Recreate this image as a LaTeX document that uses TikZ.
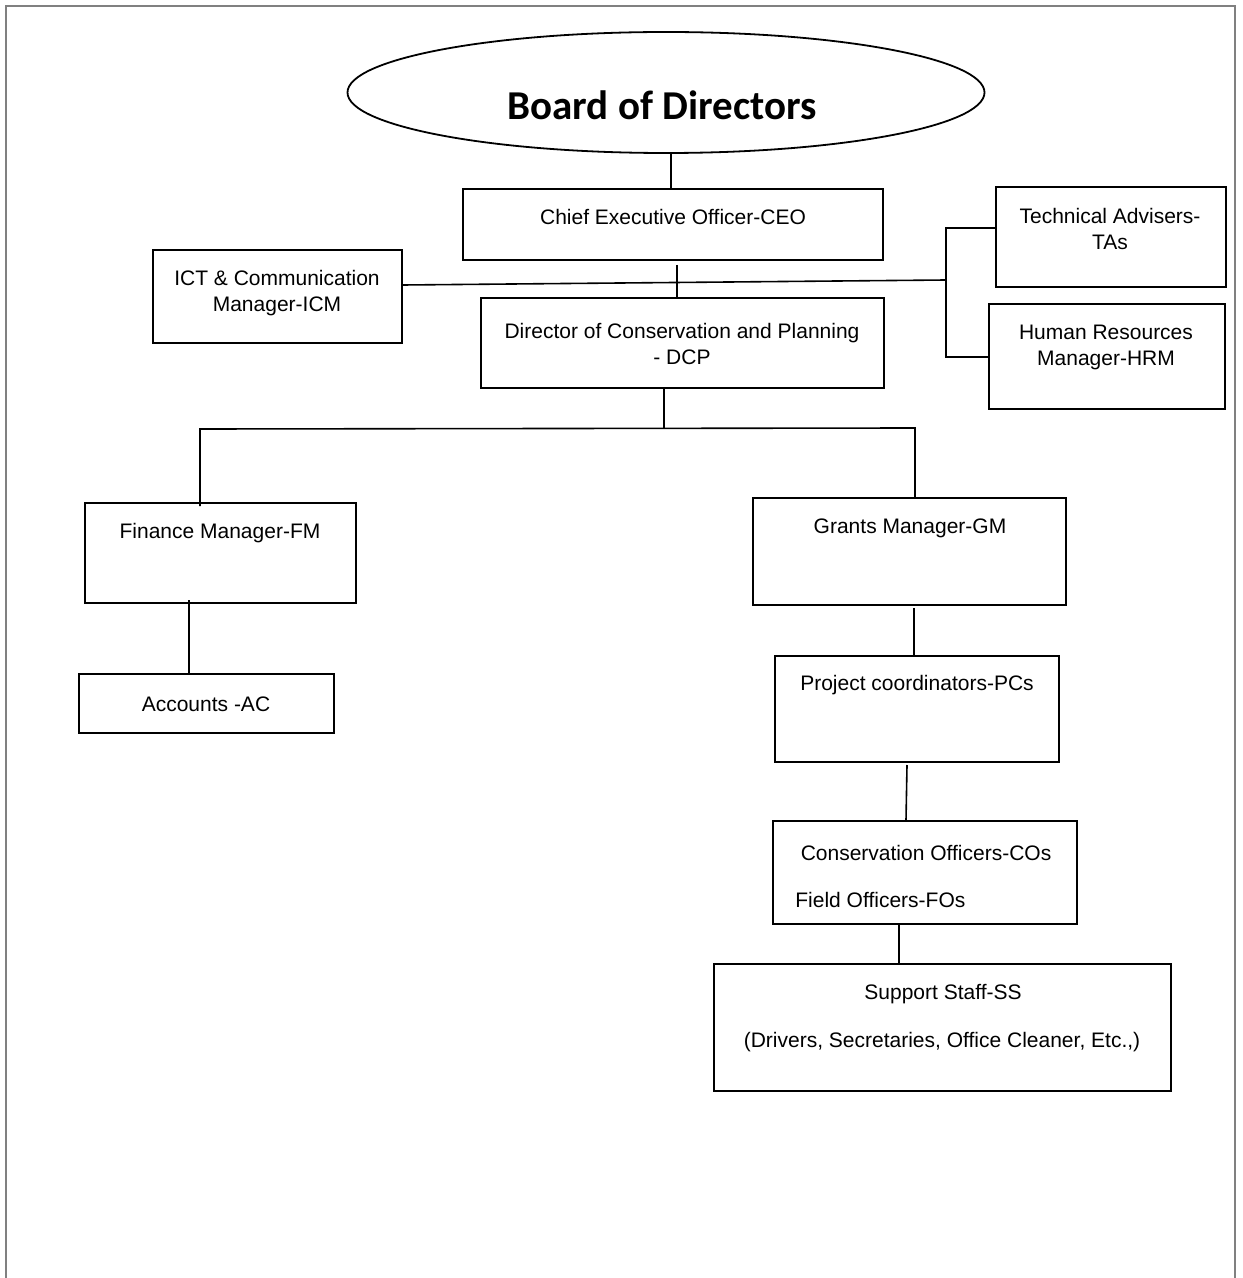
\documentclass[tikz,border=0pt]{standalone}
\usepackage{fontspec}
\setmainfont{Liberation Sans}
\newfontfamily\titlefont{Carlito}
\usetikzlibrary{shapes.geometric,fit}
\begin{document}
\begin{tikzpicture}[x=0.5pt,y=-0.5pt,
  box/.style={draw, line width=0.9pt, inner sep=0pt, rectangle},
  txt/.style={font=\fontsize{10.5}{13}\selectfont, align=center, inner sep=0pt},
  conn/.style={line width=0.8pt},
  frame/.style={draw=black!50, line width=1pt}]
\useasboundingbox (0,0) rectangle (1242,1278);
% page frame
\draw[frame] (6,1278) -- (6,6) -- (1235,6) -- (1235,1278);

% Board of Directors
\node[draw, ellipse, line width=0.9pt, inner sep=0pt, minimum width=318.5pt, minimum height=60.5pt] (bod) at (666,92.5) {};
\node[font=\titlefont\bfseries\fontsize{20.5}{24}\selectfont, inner sep=0pt] (bodT) at (662,105) {Board of Directors};

% boxes
\node[box, fit={(463,189) (883,260)}] (ceo) {};
\node[txt] (ceoT) at (673,217) {Chief Executive Officer-CEO};

\node[box, fit={(153,250) (402,343)}] (icm) {};
\node[txt] (icmT) at (277,293.5) {ICT \& Communication\\Manager-ICM};

\node[box, fit={(481,298) (884,388)}] (dcp) {};
\node[txt] (dcpT) at (682,344) {Director of Conservation and Planning\\- DCP};

\node[box, fit={(996,187) (1226,287)}] (ta) {};
\node[txt] (taT) at (1110,229) {Technical Advisers-\\TAs};

\node[box, fit={(989,304) (1225,409)}] (hrm) {};
\node[txt] (hrmT) at (1106,347) {Human Resources\\Manager-HRM};

\node[box, fit={(85,503) (356,603)}] (fm) {};
\node[txt] (fmT) at (220,533) {Finance Manager-FM};

\node[box, fit={(79,674) (334,733)}] (ac) {};
\node[txt] (acT) at (206,704) {Accounts -AC};

\node[box, fit={(753,498) (1066,605)}] (gm) {};
\node[txt] (gmT) at (910,528) {Grants Manager-GM};

\node[box, fit={(775,656) (1059,762)}] (pc) {};
\node[txt] (pcT) at (917,685) {Project coordinators-PCs};

\node[box, fit={(773,821) (1077,924)}] (co) {};
\node[txt] (coT) at (926,853) {Conservation Officers-COs};
\node[txt, anchor=west] (foT) at (795,900) {Field Officers-FOs};

\node[box, fit={(714,964) (1171,1091)}] (ss) {};
\node[txt] (ssT) at (943,994) {Support Staff-SS};
\node[txt] (ssT2) at (942,1042) {(Drivers, Secretaries, Office Cleaner, Etc.,)};

% connectors
\coordinate (jR) at (946,280);
\coordinate (jB) at (664,428);
\coordinate (jBL) at (200,429);
\coordinate (jBR) at (915,428);

\draw[conn] (bod.south -| 671,0) -- (ceo.north -| 671,0);
\draw[conn] (677,265) -- (dcp.north -| 677,0);
\draw[conn] (icm.east |- 0,285) -- (jR);
\draw[conn] (ta.west |- 0,228) -- (946,228) -- (946,357) -- (hrm.west |- 0,357);
\draw[conn] (dcp.south -| jB) -- (jB);
\draw[conn] (fm.north -| jBL) ++(0,4) -- (jBL) -- (jBR) -- (gm.north -| jBR);
\draw[conn] (189,600) -- (ac.north -| 189,0);
\draw[conn] (gm.south -| 914,0) ++(0,2) -- (pc.north -| 914,0);
\draw[conn] (907,765) -- (co.north -| 906,0);
\draw[conn] (co.south -| 899,0) -- (ss.north -| 899,0);
\end{tikzpicture}
\end{document}
